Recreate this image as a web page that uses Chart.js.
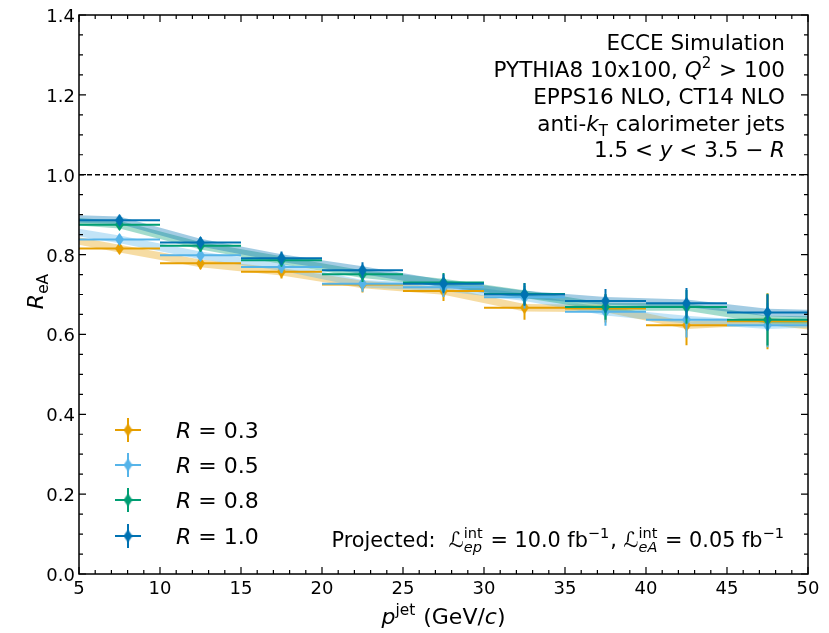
<!DOCTYPE html>
<html>
<head>
<meta charset="utf-8">
<script src="https://cdn.jsdelivr.net/npm/chart.js@4.4.0/dist/chart.umd.min.js"></script>
<style>
  body { margin: 0; background: #fff; }
  canvas { display: block; }
</style>
</head>
<body>
<canvas id="myChart" width="829" height="633"></canvas>
<script>
'use strict'

// jet momentum bins (GeV/c)
const binLow = [5, 10, 15, 20, 25, 30, 35, 40, 45];
const binHigh = [10, 15, 20, 25, 30, 35, 40, 45, 50];
const binCenter = [7.5, 12.5, 17.5, 22.5, 27.5, 32.5, 37.5, 42.5, 47.5];

// R_eA per jet radius, stat errors, and where the model band ends (x = 5 and x = 50)
const rea03 = [0.815, 0.778, 0.757, 0.725, 0.709, 0.667, 0.665, 0.623, 0.633];
const err03 = [0.012, 0.015, 0.017, 0.020, 0.025, 0.030, 0.035, 0.050, 0.070];
const edge03 = [0.834, 0.622];

const rea05 = [0.838, 0.798, 0.769, 0.727, 0.718, 0.693, 0.657, 0.637, 0.623];
const err05 = [0.012, 0.014, 0.016, 0.020, 0.024, 0.028, 0.035, 0.045, 0.055];
const edge05 = [0.855, 0.626];

const rea08 = [0.875, 0.822, 0.786, 0.751, 0.730, 0.701, 0.669, 0.669, 0.637];
const err08 = [0.012, 0.014, 0.016, 0.020, 0.024, 0.028, 0.032, 0.042, 0.065];
const edge08 = [0.882, 0.636];

const rea10 = [0.886, 0.830, 0.791, 0.761, 0.727, 0.700, 0.684, 0.678, 0.655];
const err10 = [0.012, 0.014, 0.017, 0.020, 0.024, 0.028, 0.030, 0.038, 0.045];
const edge10 = [0.889, 0.652];

const radii = ['0.3', '0.5', '0.8', '1.0'];
const xTicks = [5, 10, 15, 20, 25, 30, 35, 40, 45, 50];
const yTicks = [0.0, 0.2, 0.4, 0.6, 0.8, 1.0, 1.2, 1.4];

const FONT = '"DejaVu Sans", sans-serif';
const BAND_HALF = 0.0095;

const series = [
  { r: radii[0], color: '#E69F00', band: 'rgba(230,159,0,0.36)', vals: rea03, errs: err03, edge: edge03 },
  { r: radii[1], color: '#56B4E9', band: 'rgba(86,180,233,0.36)', vals: rea05, errs: err05, edge: edge05 },
  { r: radii[2], color: '#009E73', band: 'rgba(0,158,115,0.36)', vals: rea08, errs: err08, edge: edge08 },
  { r: radii[3], color: '#0072B2', band: 'rgba(0,114,178,0.36)', vals: rea10, errs: err10, edge: edge10 }
];

// thin diamond marker
function makeDiamond(color) {
  const c = document.createElement('canvas');
  c.width = 9; c.height = 13;
  const g = c.getContext('2d');
  g.fillStyle = color;
  g.beginPath();
  g.moveTo(4.5, 0); g.lineTo(9, 6.5); g.lineTo(4.5, 13); g.lineTo(0, 6.5);
  g.closePath();
  g.fill();
  return c;
}
series.forEach(s => { s.marker = makeDiamond(s.color); });

// datasets: points first (drawn on top), dark blue on top of all, bands at the back
const datasets = [];
series.slice().reverse().forEach(s => {
  datasets.push({
    label: 'R = ' + s.r,
    data: binCenter.map((x, i) => ({ x: x, y: s.vals[i] })),
    showLine: false,
    pointStyle: s.marker,
    pointRadius: 5,
    errs: s.errs,
    color: s.color
  });
});
series.slice().reverse().forEach(s => {
  const bx = [binLow[0]].concat(binCenter, [binHigh[binHigh.length - 1]]);
  const by = [s.edge[0]].concat(s.vals, [s.edge[1]]);
  datasets.push({
    data: bx.map((x, i) => ({ x: x, y: by[i] + BAND_HALF })),
    borderWidth: 0, pointRadius: 0, fill: '+1', backgroundColor: s.band, tension: 0
  });
  datasets.push({
    data: bx.map((x, i) => ({ x: x, y: by[i] - BAND_HALF })),
    borderWidth: 0, pointRadius: 0, fill: false, tension: 0
  });
});

// text with italics, sub- and superscripts
function drawRich(ctx, parts, x, y, size, align) {
  const font = (it, s) => (it ? 'italic ' : '') + s + 'px ' + FONT;
  const small = size * 0.7;
  let total = 0;
  const widths = parts.map(p => {
    let w;
    if (p.t !== undefined) {
      ctx.font = font(p.it, size);
      w = ctx.measureText(p.t).width;
    } else {
      ctx.font = font(false, small);
      const a = p.sup ? ctx.measureText(p.sup).width : 0;
      ctx.font = font(p.subIt, small);
      const b = p.sub ? ctx.measureText(p.sub).width : 0;
      w = Math.max(a, b) + 1;
    }
    total += w;
    return w;
  });
  let cx = align === 'right' ? x - total : align === 'center' ? x - total / 2 : x;
  ctx.textAlign = 'left';
  ctx.textBaseline = 'alphabetic';
  ctx.fillStyle = '#000';
  parts.forEach((p, i) => {
    if (p.t !== undefined) {
      ctx.font = font(p.it, size);
      ctx.fillText(p.t, cx, y);
    } else {
      if (p.sup) { ctx.font = font(false, small); ctx.fillText(p.sup, cx, y - size * 0.42); }
      if (p.sub) { ctx.font = font(p.subIt, small); ctx.fillText(p.sub, cx, y + size * 0.22); }
    }
    cx += widths[i];
  });
}

function errorCross(ctx, x, y, x0, x1, y0, y1, color) {
  ctx.strokeStyle = color;
  ctx.lineWidth = 2;
  ctx.beginPath();
  ctx.moveTo(x0, y); ctx.lineTo(x1, y);
  ctx.moveTo(x, y0); ctx.lineTo(x, y1);
  ctx.stroke();
}

const decorations = {
  id: 'decorations',
  beforeDatasetsDraw(chart) {
    const ctx = chart.ctx, a = chart.chartArea, ys = chart.scales.y;
    const y1 = ys.getPixelForValue(1.0);
    ctx.save();
    ctx.strokeStyle = '#000';
    ctx.lineWidth = 1.5;
    ctx.setLineDash([5, 3]);
    ctx.beginPath();
    ctx.moveTo(a.left, y1); ctx.lineTo(a.right, y1);
    ctx.stroke();
    ctx.restore();
  },
  beforeDatasetDraw(chart, args) {
    const ds = chart.data.datasets[args.index];
    if (!ds.errs) return;
    const ctx = chart.ctx, xs = chart.scales.x, ys = chart.scales.y;
    ctx.save();
    ds.data.forEach((d, i) => {
      const px = xs.getPixelForValue(d.x), py = ys.getPixelForValue(d.y);
      errorCross(ctx, px, py,
        xs.getPixelForValue(binLow[i]), xs.getPixelForValue(binHigh[i]),
        ys.getPixelForValue(d.y - ds.errs[i]), ys.getPixelForValue(d.y + ds.errs[i]),
        ds.color);
    });
    ctx.restore();
  },
  afterDraw(chart) {
    const ctx = chart.ctx, a = chart.chartArea, xs = chart.scales.x, ys = chart.scales.y;
    ctx.save();
    ctx.strokeStyle = '#000';
    ctx.lineWidth = 1.5;
    ctx.strokeRect(a.left, a.top, a.right - a.left, a.bottom - a.top);

    // inward ticks on all four sides
    ctx.lineWidth = 1.2;
    ctx.beginPath();
    for (let v = 5; v <= 50; v += 1) {
      const px = xs.getPixelForValue(v);
      const len = xTicks.includes(v) ? 7 : 4;
      ctx.moveTo(px, a.bottom); ctx.lineTo(px, a.bottom - len);
      ctx.moveTo(px, a.top); ctx.lineTo(px, a.top + len);
    }
    for (let k = 0; k <= 28; k++) {
      const v = k * 0.05;
      const py = ys.getPixelForValue(v);
      const len = k % 4 === 0 ? 7 : 4;
      ctx.moveTo(a.left, py); ctx.lineTo(a.left + len, py);
      ctx.moveTo(a.right, py); ctx.lineTo(a.right - len, py);
    }
    ctx.stroke();

    ctx.fillStyle = '#000';
    ctx.font = '18px ' + FONT;
    ctx.textAlign = 'center';
    ctx.textBaseline = 'alphabetic';
    xTicks.forEach(v => ctx.fillText(String(v), xs.getPixelForValue(v), a.bottom + 20));
    ctx.textAlign = 'right';
    yTicks.forEach(v => ctx.fillText(v.toFixed(1), a.left - 4, ys.getPixelForValue(v) + 7));

    // axis titles
    drawRich(ctx, [{ t: 'p', it: true }, { sup: 'jet' }, { t: ' (GeV/' }, { t: 'c', it: true }, { t: ')' }],
      (a.left + a.right) / 2, 624, 22, 'center');
    ctx.save();
    ctx.translate(43, 291);
    ctx.rotate(-Math.PI / 2);
    drawRich(ctx, [{ t: 'R', it: true }, { sub: 'eA' }], 0, 0, 22, 'center');
    ctx.restore();

    // simulation info
    const tx = a.right - 23;
    const size = 21.5;
    drawRich(ctx, [{ t: 'ECCE Simulation' }], tx, 50, size, 'right');
    drawRich(ctx, [{ t: 'PYTHIA8 10x100, ' }, { t: 'Q', it: true }, { sup: '2' }, { t: ' > 100' }], tx, 77, size, 'right');
    drawRich(ctx, [{ t: 'EPPS16 NLO, CT14 NLO' }], tx, 104, size, 'right');
    drawRich(ctx, [{ t: 'anti-' }, { t: 'k', it: true }, { sub: 'T' }, { t: ' calorimeter jets' }], tx, 131, size, 'right');
    drawRich(ctx, [{ t: '1.5 < ' }, { t: 'y', it: true }, { t: ' < 3.5 − ' }, { t: 'R', it: true }], tx, 157, size, 'right');
    drawRich(ctx, [{ t: 'Projected:  ℒ' }, { sup: 'int', sub: 'ep', subIt: true }, { t: ' = 10.0 fb' }, { sup: '−1' },
      { t: ', ℒ' }, { sup: 'int', sub: 'eA', subIt: true }, { t: ' = 0.05 fb' }, { sup: '−1' }], tx, 547, 20.8, 'right');

    // legend
    const legendY = [430, 465, 500, 536];
    series.forEach((s, i) => {
      const ly = legendY[i], lx = 128;
      errorCross(ctx, lx, ly, lx - 13, lx + 13, ly - 12, ly + 12, s.color);
      ctx.drawImage(s.marker, lx - 4.5, ly - 6.5);
      drawRich(ctx, [{ t: 'R', it: true }, { t: ' = ' + s.r }], 176, ly + 8, 22, 'left');
    });
    ctx.restore();
  }
};

const ctx = document.getElementById('myChart').getContext('2d');
const myChart = new Chart(ctx, {
  type: 'line',
  data: { datasets: datasets },
  options: {
    responsive: false,
    animation: false,
    devicePixelRatio: 1,
    layout: { autoPadding: false, padding: { left: 79, right: 21, top: 15, bottom: 59 } },
    scales: {
      x: { type: 'linear', min: 5, max: 50, display: false },
      y: { type: 'linear', min: 0, max: 1.4, display: false }
    },
    plugins: { legend: { display: false }, tooltip: { enabled: false } }
  },
  plugins: [decorations]
});
</script>
</body>
</html>
